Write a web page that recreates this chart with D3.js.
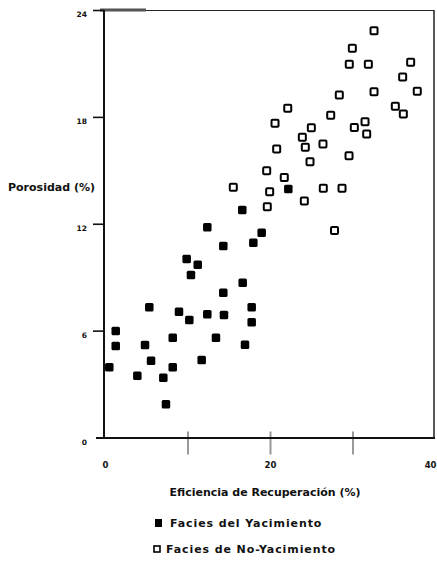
<!DOCTYPE html>
<html>
<head>
<meta charset="utf-8">
<script src="https://cdn.jsdelivr.net/npm/d3@7"></script>
<style>
  html, body { margin: 0; padding: 0; background: #fff; }
  svg { display: block; }
  text { font-family: "DejaVu Sans", sans-serif; fill: #111; }
</style>
</head>
<body>
<svg id="chart" width="437" height="569"></svg>
<script>
// ---- data ----
const xTickValues = [0, 10, 20, 30, 40];
const xTickLabels = ["0", "", "20", "", "40"];
const yTickValues = [0, 6, 12, 18, 24];
const yTickLabels = ["0", "6", "12", "18", "24"];

// Facies del Yacimiento (filled)
const yacX = [0.52, 1.30, 1.30, 3.92, 4.85, 5.37, 5.58, 7.07, 7.39, 8.21, 8.21, 8.97, 9.90, 10.22, 10.42, 11.24,
              11.72, 12.40, 12.40, 13.45, 14.34, 14.34, 14.42, 16.64, 16.69, 16.97, 17.78, 17.78, 17.98, 18.99, 22.22];
const yacY = [3.94, 5.98, 5.14, 3.47, 5.19, 7.31, 4.31, 3.36, 1.86, 5.60, 3.94, 7.06, 10.02, 6.60, 9.12, 9.70,
              4.35, 6.92, 11.80, 5.60, 10.75, 8.13, 6.88, 12.77, 8.69, 5.21, 7.31, 6.47, 10.94, 11.50, 13.95];

// Facies de No-Yacimiento (open)
const noYacX = [15.55, 19.60, 19.67, 19.96, 20.61, 20.81, 21.73, 22.15, 23.92, 24.16, 24.28, 24.85, 25.01, 26.42,
                26.46, 27.36, 27.82, 28.40, 28.73, 29.58, 29.61, 29.98, 30.22, 31.52, 31.72, 31.92, 32.61, 32.61,
                35.19, 36.08, 36.16, 37.05, 37.85];
const noYacY = [14.05, 14.98, 12.96, 13.80, 17.64, 16.20, 14.59, 18.48, 16.85, 13.28, 16.29, 15.48, 17.39, 16.48,
                13.99, 18.09, 11.62, 19.23, 13.99, 15.82, 20.95, 21.85, 17.41, 17.73, 17.04, 20.95, 22.84, 19.41,
                18.59, 20.24, 18.16, 21.06, 19.44];

const xTitle = "Eficiencia de Recuperación (%)";
const yTitle = "Porosidad (%)";
const legendLabels = ["Facies del Yacimiento", "Facies de No-Yacimiento"];

// ---- layout ----
const svg = d3.select("#chart");
const mLeft = 105, mRight = 435, mTop = 10, mBottom = 437.5;
const x = d3.scaleLinear().domain([0, 40]).range([mLeft, mRight]);
const y = d3.scaleLinear().domain([0, 24]).range([mBottom, mTop]);

// frame: top and right border
svg.append("line").attr("x1", 100).attr("x2", x(40) - 1).attr("y1", y(24) + 0.5).attr("y2", y(24) + 0.5)
  .attr("stroke", "#222").attr("stroke-width", 1.2);
svg.append("line").attr("x1", 100).attr("x2", 146).attr("y1", y(24)).attr("y2", y(24))
  .attr("stroke", "#555").attr("stroke-width", 3);
svg.append("line").attr("x1", x(40) - 1).attr("x2", x(40) - 1).attr("y1", y(24)).attr("y2", y(0))
  .attr("stroke", "#222").attr("stroke-width", 1.5);

// x axis
const xAxis = d3.axisBottom(x).tickValues(xTickValues).tickSize(0).tickFormat((d, i) => xTickLabels[i]);
const gx = svg.append("g").attr("transform", `translate(0,${y(0)})`).call(xAxis);
gx.select(".domain").remove();
gx.selectAll("text").attr("dy", 0).attr("y", 30).style("font-size", "8.5px").style("font-weight", "bold");
gx.selectAll(".tick").filter(d => d === 40).select("text").attr("text-anchor", "end").attr("x", 1);
svg.append("line").attr("x1", 96).attr("x2", x(40)).attr("y1", y(0) + 0.5).attr("y2", y(0) + 0.5)
  .attr("stroke", "#111").attr("stroke-width", 2);
gx.selectAll(".tick").filter(d => d > 0 && d < 40).append("line")
  .attr("y1", -6).attr("y2", 17).attr("stroke", "#999").attr("stroke-width", 2);

// y axis
const yAxis = d3.axisLeft(y).tickValues(yTickValues).tickSize(11).tickFormat((d, i) => yTickLabels[i]);
const gy = svg.append("g").attr("transform", `translate(${mLeft - 1},0)`).call(yAxis);
gy.select(".domain").remove();
gy.selectAll(".tick line").attr("stroke", "#111").attr("stroke-width", 1.6);
gy.selectAll(".tick").filter(d => d === 0).select("line").remove();
gy.selectAll("text").attr("x", -17).attr("dy", "0.9em").style("font-size", "7.5px").style("font-weight", "bold");
svg.append("line").attr("x1", mLeft - 1).attr("x2", mLeft - 1).attr("y1", y(24)).attr("y2", y(0) + 1)
  .attr("stroke", "#111").attr("stroke-width", 2);

// points
const yac = yacX.map((v, i) => ({ x: v, y: yacY[i] }));
const noYac = noYacX.map((v, i) => ({ x: v, y: noYacY[i] }));
const s = 8.5;
svg.append("g").selectAll("rect").data(yac).join("rect")
  .attr("x", d => x(d.x) - s / 2).attr("y", d => y(d.y) - s / 2)
  .attr("width", s).attr("height", s).attr("rx", 1.5)
  .attr("fill", "#000");
const so = 7;
svg.append("g").selectAll("rect").data(noYac).join("rect")
  .attr("x", d => x(d.x) - so / 2).attr("y", d => y(d.y) - so / 2)
  .attr("width", so).attr("height", so).attr("rx", 1)
  .attr("fill", "#fff").attr("stroke", "#000").attr("stroke-width", 2);

// titles
svg.append("text").attr("x", 8).attr("y", 191).text(yTitle)
  .style("font-size", "11px").style("font-weight", "bold");
svg.append("text").attr("x", 265).attr("y", 496).attr("text-anchor", "middle").text(xTitle)
  .style("font-size", "11px").style("font-weight", "bold");

// legend
const lg = svg.append("g");
lg.append("rect").attr("x", 155).attr("y", 519).attr("width", 7).attr("height", 8).attr("fill", "#000");
lg.append("text").attr("x", 170).attr("y", 527).text(legendLabels[0])
  .style("font-size", "11px").style("font-weight", "bold").style("letter-spacing", "0.9px");
lg.append("rect").attr("x", 154).attr("y", 546).attr("width", 6).attr("height", 6)
  .attr("fill", "#fff").attr("stroke", "#000").attr("stroke-width", 1.6);
lg.append("text").attr("x", 166).attr("y", 553).text(legendLabels[1])
  .style("font-size", "11px").style("font-weight", "bold").style("letter-spacing", "0.9px");
</script>
</body>
</html>
